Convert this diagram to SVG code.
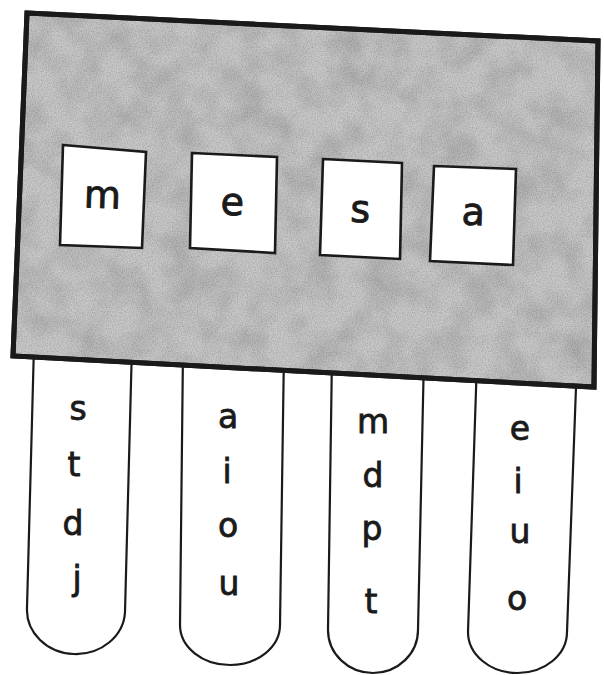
<svg xmlns="http://www.w3.org/2000/svg" width="604" height="675" viewBox="0 0 604 675">
  <style>
    .strip { fill: #ffffff; stroke: #1a1a1a; stroke-width: 2.2; }
    .box { fill: #ffffff; stroke: #1a1a1a; stroke-width: 2.6; stroke-linejoin: miter; }
    .board { fill: #c9c9c9; stroke: #1a1a1a; stroke-width: 5; stroke-linejoin: miter; }
    .big { font-family: "DejaVu Sans", "Liberation Sans", sans-serif; font-size: 38px; fill: #1a1a1a; stroke: #1a1a1a; stroke-width: 0.9; text-anchor: middle; }
    .small { font-family: "DejaVu Sans", "Liberation Sans", sans-serif; font-size: 33px; fill: #1a1a1a; stroke: #1a1a1a; stroke-width: 0.8; text-anchor: middle; }
  </style>
  <defs>
    <filter id="mottle" x="0" y="0" width="1" height="1">
      <feTurbulence type="fractalNoise" baseFrequency="0.03" numOctaves="3" seed="7"/>
      <feColorMatrix type="matrix" values="0 0 0 0 0  0 0 0 0 0  0 0 0 0 0  0.5 0 0 0 -0.18"/>
      <feComposite in2="SourceGraphic" operator="in"/>
    </filter>
    <filter id="grain" x="0" y="0" width="1" height="1">
      <feTurbulence type="fractalNoise" baseFrequency="0.8" numOctaves="1" seed="3"/>
      <feColorMatrix type="matrix" values="0 0 0 0 0  0 0 0 0 0  0 0 0 0 0  0.6 0 0 0 -0.22"/>
      <feComposite in2="SourceGraphic" operator="in"/>
    </filter>
  </defs>
  <rect width="604" height="675" fill="#ffffff"/>

  <g id="strips">
    <g id="strip1">
      <path class="strip" d="M34,345 L27,608 A49,44 0 0 0 125,612 L132,345"/>
      <text class="small" x="78" y="420">s</text>
      <text class="small" x="74" y="476">t</text>
      <text class="small" x="73" y="535">d</text>
      <text class="small" x="77" y="590">j</text>
    </g>
    <g id="strip2">
      <path class="strip" d="M183,350 L180,625 A50,40 0 0 0 280,625 L284,350"/>
      <text class="small" x="228" y="428">a</text>
      <text class="small" x="227" y="483">i</text>
      <text class="small" x="228" y="537">o</text>
      <text class="small" x="229" y="595">u</text>
    </g>
    <g id="strip3">
      <path class="strip" d="M332,355 L328,630 A45,43 0 0 0 418,630 L424,355"/>
      <text class="small" x="373" y="433">m</text>
      <text class="small" x="373" y="487">d</text>
      <text class="small" x="372" y="540">p</text>
      <text class="small" x="371" y="613">t</text>
    </g>
    <g id="strip4">
      <path class="strip" d="M477,360 L468,632 A49.5,41 0 0 0 567,632 L577,360"/>
      <text class="small" x="520" y="440">e</text>
      <text class="small" x="518" y="493">i</text>
      <text class="small" x="520" y="543">u</text>
      <text class="small" x="517" y="610">o</text>
    </g>
  </g>

  <g id="board">
    <polygon class="board" points="27,13 598,41 594,387 13,356"/>
    <polygon points="27,13 598,41 594,387 13,356" fill="#000000" filter="url(#mottle)" opacity="0.5"/>
    <polygon points="27,13 598,41 594,387 13,356" fill="#000000" filter="url(#grain)" opacity="0.6"/>
    <polygon points="27,13 598,41 594,387 13,356" fill="none" stroke="#1a1a1a" stroke-width="5"/>
  </g>

  <g id="boxes">
    <g id="box-m">
      <polygon class="box" points="63,145 146,152 142,248 60,245"/>
      <text class="big" x="102" y="208" transform="rotate(2 102 208)">m</text>
    </g>
    <g id="box-e">
      <polygon class="box" points="192,153 277,157 275,253 190,248"/>
      <text class="big" x="232" y="215" transform="rotate(2 232 215)">e</text>
    </g>
    <g id="box-s">
      <polygon class="box" points="323,159 402,163 400,259 320,255"/>
      <text class="big" x="360" y="222" transform="rotate(2 360 222)">s</text>
    </g>
    <g id="box-a">
      <polygon class="box" points="434,166 516,169 513,265 430,261"/>
      <text class="big" x="473" y="225" transform="rotate(2 473 225)">a</text>
    </g>
  </g>

  <g id="connectors"/>
</svg>
